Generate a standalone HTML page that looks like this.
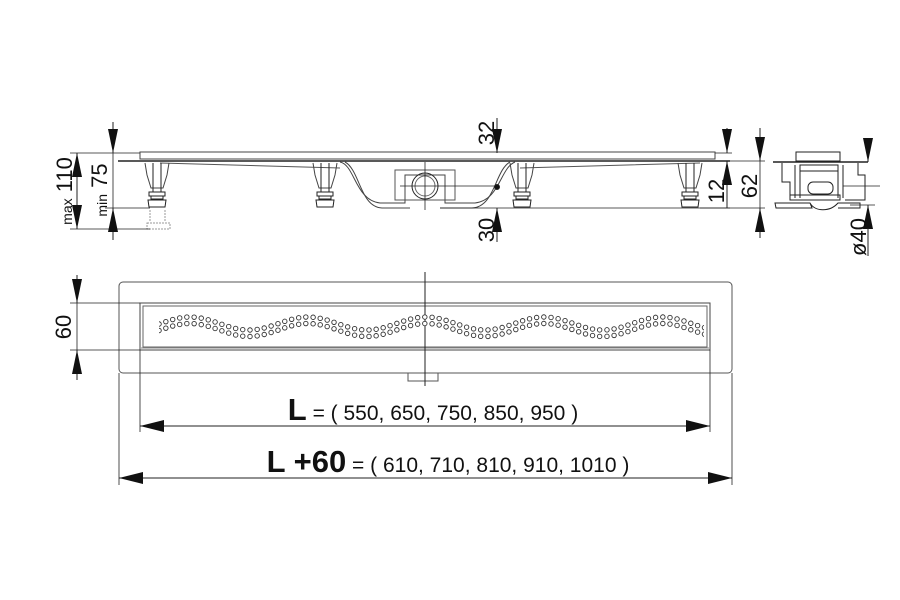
<!DOCTYPE html>
<html><head><meta charset="utf-8"><style>
html,body{margin:0;padding:0;background:#fff;}
svg{display:block;font-family:"Liberation Sans",Arial,sans-serif;}
</style></head><body>
<svg width="900" height="600" viewBox="0 0 900 600" xmlns="http://www.w3.org/2000/svg">
<defs>
<marker id="a" viewBox="0 0 24 10" refX="24" refY="5" markerWidth="24" markerHeight="10" markerUnits="userSpaceOnUse" orient="auto-start-reverse"><path d="M0,0 L24,5 L0,10z" fill="#111"/></marker>
<marker id="b" viewBox="0 0 24 12" refX="24" refY="6" markerWidth="24" markerHeight="12" markerUnits="userSpaceOnUse" orient="auto-start-reverse"><path d="M0,0 L24,6 L0,12z" fill="#111"/></marker>
<g id="ft">
<path d="M-12,163 L-10,175 L-6,188 L6,188 L10,175 L12,163" stroke="#444" fill="none"/>
<line x1="-4" y1="163" x2="-4" y2="192"/><line x1="4" y1="163" x2="4" y2="192"/>
<rect x="-8" y="192" width="16" height="4" fill="none"/><rect x="-6" y="196" width="12" height="3" fill="none"/>
<path d="M-9,200 L9,200 L8,207 L-8,207z" fill="none"/>
</g>
<path id="wave" d="M131,333 C152.7,333 168.3,320 190,320 S227.3,333 249,333 S286.3,320 308,320 S345.3,333 367,333 S404.3,320 426,320 S463.3,333 485,333 S522.3,320 544,320 S581.3,333 603,333 S640.3,320 662,320 S699.3,333 721,333" fill="none"/>
<clipPath id="cp"><rect x="159" y="305" width="545" height="43"/></clipPath>
</defs>
<g stroke="#222" fill="none" stroke-width="1">
<rect x="140" y="152" width="575" height="7" fill="#fff" stroke="#444"/>
<line x1="118" y1="161" x2="730" y2="161" stroke-width="1.5"/>
<path d="M160,163 L340,168 M520,168 L700,163" stroke="#555"/>
<path d="M340,162 C355,165 355,200 380,203 L405,203 L405,175 L445,175 L445,203 L475,203 C500,200 500,168 515,162" stroke="#444"/>
<path d="M345,162 C360,170 360,207 382,208 L410,208 M440,208 L472,208 C495,207 495,170 510,162" stroke="#444"/>
<rect x="395" y="170" width="60" height="30" stroke="#555"/>
<circle cx="425" cy="186" r="13"/><circle cx="425" cy="186" r="10" stroke="#666"/>
<line x1="425" y1="162" x2="425" y2="210" stroke-width="0.8"/>
<line x1="400" y1="186" x2="497" y2="186" stroke-width="0.8"/>
<circle cx="497" cy="187" r="2.5" fill="#111"/>
<use href="#ft" x="157"/><use href="#ft" x="325"/><use href="#ft" x="522"/><use href="#ft" x="690"/>
<path d="M150,210 L150,222 M165,210 L165,222 M147,223 L170,223 L170,229 L147,229z" stroke="#999" stroke-dasharray="2 1"/>
<line x1="70" y1="153" x2="140" y2="153" stroke-width="0.8"/>
<line x1="70" y1="229" x2="150" y2="229" stroke-width="0.8"/>
<line x1="105" y1="208" x2="150" y2="208" stroke-width="0.8"/>
<line x1="77" y1="153" x2="77" y2="229" marker-start="url(#a)" marker-end="url(#a)"/>
<line x1="113" y1="122" x2="113" y2="153" marker-end="url(#a)"/>
<line x1="113" y1="240" x2="113" y2="208" marker-end="url(#a)"/>
<line x1="113" y1="153" x2="113" y2="208" stroke-width="0.8"/>
<line x1="497" y1="118" x2="497" y2="153" marker-end="url(#a)"/>
<line x1="497" y1="242" x2="497" y2="208" marker-end="url(#a)"/>
<line x1="440" y1="208" x2="730" y2="208" stroke-width="0.8"/>
<line x1="715" y1="153" x2="732" y2="153" stroke-width="0.8"/>
<line x1="727" y1="128" x2="727" y2="153" marker-end="url(#a)"/>
<line x1="727" y1="208" x2="727" y2="161" marker-end="url(#a)"/>
<line x1="730" y1="161" x2="765" y2="161" stroke-width="0.8"/>
<line x1="700" y1="208" x2="765" y2="208" stroke-width="0.8"/>
<line x1="760" y1="128" x2="760" y2="161" marker-end="url(#a)"/>
<line x1="760" y1="238" x2="760" y2="208" marker-end="url(#a)"/>
<line x1="760" y1="161" x2="760" y2="208" stroke-width="0.8"/>
<rect x="796" y="152" width="44" height="9" fill="#fff"/>
<line x1="773" y1="162" x2="868" y2="162" stroke-width="1.5"/>
<path d="M782,163 L782,182 L790,182 L790,195 M858,163 L858,175 L865,175 L865,200 L845,200"/>
<rect x="800" y="165" width="38" height="6"/>
<path d="M795,165 L795,198 M843,165 L843,198 M800,171 L800,198 M838,171 L838,198"/>
<rect x="808" y="182" width="25" height="12" rx="5"/>
<rect x="790" y="195" width="50" height="5"/>
<path d="M775,203 L810,203 L812,208 L776,208z M810,203 C815,212 830,212 838,203 L860,203 L860,208 L838,208"/>
<line x1="843" y1="186" x2="880" y2="186" stroke-width="0.8"/>
<line x1="868" y1="138" x2="868" y2="162" marker-end="url(#a)"/>
<line x1="868" y1="230" x2="868" y2="205" marker-end="url(#a)"/>
<line x1="868" y1="228" x2="868" y2="256"/>
<line x1="850" y1="205" x2="875" y2="205" stroke-width="0.8"/>
<rect x="119" y="282" width="613" height="91" rx="4" stroke="#555"/>
<rect x="140" y="303" width="570" height="47" stroke="#444"/>
<rect x="143" y="306" width="564" height="41" stroke="#666"/>
<line x1="141" y1="348" x2="709" y2="348" stroke="#888"/>
<path d="M408,373 L408,381 L438,381 L438,373" stroke="#555"/>
<line x1="425" y1="272" x2="425" y2="386"/>
<line x1="70" y1="303" x2="140" y2="303" stroke-width="0.8"/>
<line x1="70" y1="350" x2="140" y2="350" stroke-width="0.8"/>
<line x1="77" y1="275" x2="77" y2="303" marker-end="url(#a)"/>
<line x1="77" y1="380" x2="77" y2="350" marker-end="url(#a)"/>
<line x1="77" y1="303" x2="77" y2="350" stroke-width="0.8"/>
<line x1="140" y1="350" x2="140" y2="432" stroke-width="0.8"/>
<line x1="710" y1="350" x2="710" y2="432" stroke-width="0.8"/>
<line x1="119" y1="373" x2="119" y2="485" stroke-width="0.8"/>
<line x1="732" y1="373" x2="732" y2="485" stroke-width="0.8"/>
<line x1="140" y1="426" x2="710" y2="426" marker-start="url(#b)" marker-end="url(#b)"/>
<line x1="119" y1="478" x2="732" y2="478" marker-start="url(#b)" marker-end="url(#b)"/>
</g>
<g clip-path="url(#cp)" stroke-linecap="round" stroke-dasharray="0 7.2">
<use href="#wave" y="-3" stroke="#333" stroke-width="5.4"/>
<use href="#wave" y="-3" stroke="#fff" stroke-width="3.6"/>
<use href="#wave" y="3.5" stroke="#333" stroke-width="5.4"/>
<use href="#wave" y="3.5" stroke="#fff" stroke-width="3.6"/>
</g>
<g fill="#111">
<text transform="translate(72,191) rotate(-90)" font-size="22" text-anchor="middle"><tspan font-size="14">max</tspan> 110</text>
<text transform="translate(107,190) rotate(-90)" font-size="22" text-anchor="middle"><tspan font-size="14">min</tspan> 75</text>
<text transform="translate(494,133) rotate(-90)" font-size="22" text-anchor="middle">32</text>
<text transform="translate(494,230) rotate(-90)" font-size="22" text-anchor="middle">30</text>
<text transform="translate(724,191) rotate(-90)" font-size="22" text-anchor="middle">12</text>
<text transform="translate(757,186) rotate(-90)" font-size="22" text-anchor="middle">62</text>
<text transform="translate(866,237) rotate(-90)" font-size="22" text-anchor="middle">ø40</text>
<text transform="translate(71,327) rotate(-90)" font-size="22" text-anchor="middle">60</text>
<text x="433" y="420" font-size="21" text-anchor="middle"><tspan font-size="31" font-weight="bold">L</tspan> = ( 550, 650, 750, 850, 950 )</text>
<text x="448" y="472" font-size="21" text-anchor="middle"><tspan font-size="31" font-weight="bold">L +60</tspan> = ( 610, 710, 810, 910, 1010 )</text>
</g>
</svg>
</body></html>
